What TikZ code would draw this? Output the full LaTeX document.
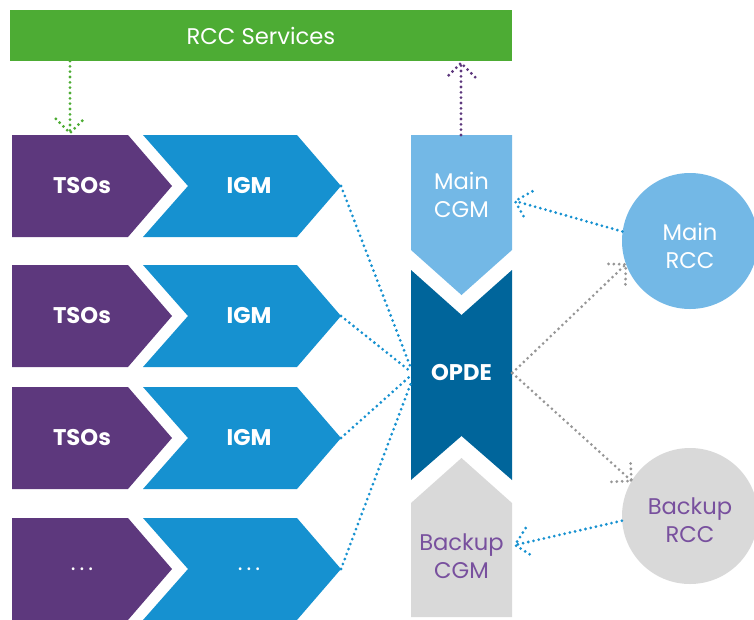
\documentclass[tikz,border=0pt]{standalone}
\usepackage{fontspec}
\setmainfont{Poppins}
\usetikzlibrary{calc,positioning}

\definecolor{rccgreen}{RGB}{77,172,52}
\definecolor{tsopurple}{RGB}{93,56,125}
\definecolor{igmblue}{RGB}{22,145,208}
\definecolor{cgmblue}{RGB}{115,184,230}
\definecolor{opdeblue}{RGB}{0,101,155}
\definecolor{backupgray}{RGB}{217,217,217}
\definecolor{backuppurple}{RGB}{120,80,158}
\definecolor{dotgray}{RGB}{150,150,150}

% dotted line with a dotted open head
\newcommand{\dotarrow}[3]{%
  \draw[#1] (#2) -- (#3);
  \draw[#1] ($(#3)!15pt!45:(#2)$) -- (#3) -- ($(#3)!15pt!-45:(#2)$);
}
\newcommand{\rowdots}{\mdseries.\hspace{3pt}.\hspace{3pt}.}

\begin{document}
\begin{tikzpicture}[x=0.75pt,y=-0.75pt,
    txt/.style={font=\fontsize{17}{21}\selectfont, align=center, text=white},
    boldtxt/.style={txt, font=\fontsize{17}{21}\selectfont\bfseries},
    dotline/.style={line width=2.3pt, line cap=round, dash pattern=on 0pt off 4pt}]
    \useasboundingbox (0,0) rectangle (754,619);

    % RCC Services bar
    \node[fill=rccgreen, minimum width=376.5pt, minimum height=38.25pt, txt] (rcc) at (261,35.5) {RCC Services};

    % TSOs and IGM rows
    \foreach \i/\y/\a/\b in {1/135/TSOs/IGM, 2/265/TSOs/IGM, 3/387/TSOs/IGM, 4/518/\rowdots/\rowdots} {
        \fill[tsopurple] (12,\y) -- (128,\y) -- (172,{\y+51}) -- (128,{\y+102}) -- (12,{\y+102}) -- cycle;
        \fill[igmblue] (143,\y) -- (297,\y) -- (341,{\y+51}) -- (297,{\y+102}) -- (143,{\y+102}) -- (188,{\y+51}) -- cycle;
        \node[boldtxt] (tsos\i) at (82,{\y+51}) {\a};
        \node[boldtxt] (igm\i) at (249,{\y+51}) {\b};
        \coordinate (igm\i tip) at (341,{\y+51});
    }

    % CGM / OPDE column
    \fill[cgmblue] (411,135) -- (512,135) -- (512,250) -- (461.5,295) -- (411,250) -- cycle;
    \fill[opdeblue] (411,270) -- (461.5,315) -- (512,270) -- (512,480) -- (461.5,436) -- (411,480) -- cycle;
    \fill[backupgray] (411,503) -- (461.5,458) -- (512,503) -- (512,617) -- (411,617) -- cycle;
    \node[txt, minimum width=75.75pt] (maincgm) at (461.5,195) {Main\\CGM};
    \node[boldtxt, minimum width=75.75pt] (opde) at (461.5,373) {OPDE};
    \node[txt, text=backuppurple, minimum width=75.75pt] (backupcgm) at (461.5,556) {Backup\\CGM};

    % RCC circles
    \node[circle, fill=cgmblue, minimum size=102pt,
          label={[txt, yshift=-3.5pt]center:{Main\\RCC}}] (mainrcc) at (690,241) {};
    \node[circle, fill=backupgray, minimum size=102pt,
          label={[txt, text=backuppurple, yshift=-3.5pt]center:{Backup\\RCC}}] (backuprcc) at (690,516) {};

    % IGMs to OPDE
    \foreach \i/\d in {1/4pt, 2/1pt, 3/-2pt, 4/-8pt}
        \draw[dotline, igmblue] (igm\i tip) -- ([yshift=\d]opde.west);

    % Arrows
    \coordinate (greenstart) at (70,61);
    \coordinate (greenend) at (70,133);
    \coordinate (cgmtop) at (461,135);
    \coordinate (purpleend) at (461,63);
    \coordinate (cgmin) at (515,201);
    \coordinate (bcgmin) at (515,545);
    \dotarrow{dotline, rccgreen}{greenstart}{greenend}
    \dotarrow{dotline, tsopurple}{cgmtop}{purpleend}
    \dotarrow{dotline, igmblue}{mainrcc.172}{cgmin}
    \dotarrow{dotline, dotgray}{opde.east}{mainrcc.200}
    \dotarrow{dotline, dotgray}{opde.east}{backuprcc.149}
    \dotarrow{dotline, igmblue}{backuprcc.184}{bcgmin}
\end{tikzpicture}
\end{document}
